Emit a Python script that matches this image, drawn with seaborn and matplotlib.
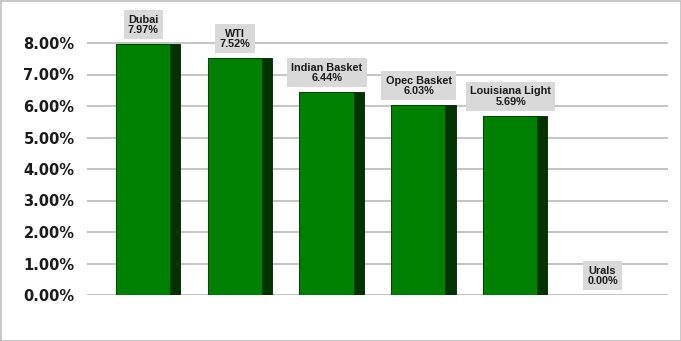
import matplotlib
matplotlib.use("Agg")
import matplotlib.pyplot as plt
import seaborn as sns
import pandas as pd
import numpy as np
from matplotlib.patches import Rectangle

categories = ["Dubai", "WTI", "Indian Basket", "Opec Basket", "Louisiana Light", "Urals"]
values = [7.97, 7.52, 6.44, 6.03, 5.69, 0.00]
ytick_vals = [0, 1, 2, 3, 4, 5, 6, 7, 8]

df = pd.DataFrame({"cat": categories, "val": values})

sns.set_theme(style="white")
plt.rcParams['font.family'] = ['Liberation Sans', 'DejaVu Sans']

fig = plt.figure(figsize=(6.81, 3.41), dpi=100)
ax = fig.add_axes([87/681, 1-295/341, (668-87)/681, 283.5/341])

# dark side (full bar)
sns.barplot(data=df, x="cat", y="val", order=categories, color="#003300",
            saturation=1, width=0.70, ax=ax, edgecolor="#002200", linewidth=0.6, zorder=3)
n_dark = len(ax.patches)
# front face
sns.barplot(data=df, x="cat", y="val", order=categories, color="#008000",
            saturation=1, width=0.59, ax=ax, edgecolor="#004400", linewidth=0.6, zorder=4)
for p in ax.patches[n_dark:]:
    p.set_x(p.get_x() - 0.055)
for p in ax.patches:
    if p.get_height() <= 0:
        p.set_visible(False)

ax.set_xlim(-0.664, 5.664)
ax.set_ylim(0, 9)
ax.set_yticks(ytick_vals)
ax.set_yticklabels([f"{v:.2f}%" for v in ytick_vals], fontsize=10.5, fontweight="bold",
                   family="DejaVu Sans", color="#1a1a1a")
ax.tick_params(axis="y", length=0, pad=9)
ax.set_xticks([])
ax.set_xlabel("")
ax.set_ylabel("")
for s in ax.spines.values():
    s.set_visible(False)
ax.grid(axis="y", color="#bfbfbf", linewidth=1.3, zorder=0)
ax.set_axisbelow(True)

for i, (c, v) in enumerate(zip(categories, values)):
    ax.annotate(f"{c}\n{v:.2f}%", xy=(i - 0.05, v), xytext=(0, 6.5), textcoords="offset points",
                ha="center", va="bottom", fontsize=7.8, fontweight="bold", color="#1a1a1a",
                linespacing=1.05,
                bbox=dict(boxstyle="square,pad=0.4", fc="#d9d9d9", ec="none"),
                zorder=6, annotation_clip=False)

fig.patches.append(Rectangle((0.5/681, 0.5/341), 1-1/681, 1-1/341, transform=fig.transFigure,
                             fill=False, ec="#bfbfbf", lw=1.2))

fig.savefig("out.png", dpi=100, facecolor="white")
